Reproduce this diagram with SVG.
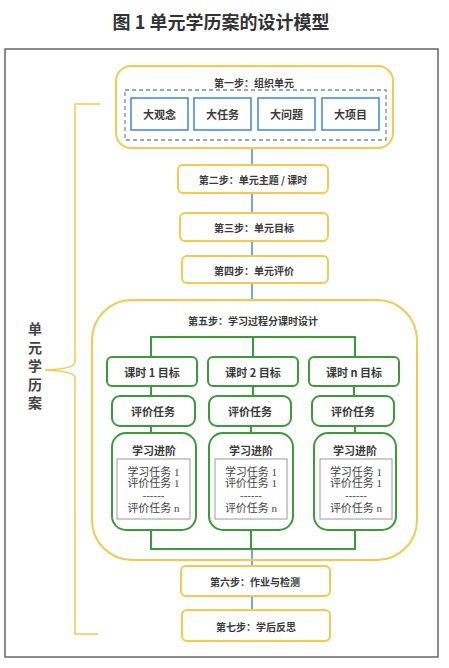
<svg xmlns="http://www.w3.org/2000/svg" width="449" height="668" viewBox="0 0 449 668">
<style>
.y{fill:#fff;stroke:#f3c94f;stroke-width:2}
.g{fill:#fff;stroke:#3c9a3c;stroke-width:2}
.b{fill:#fff;stroke:#4a8fc9;stroke-width:1.6}
.t{font-family:"Noto Sans CJK SC","Noto Sans",sans-serif;font-weight:bold;fill:#3a3a3a;text-anchor:middle;dominant-baseline:central}
.s{font-size:10px}
.m{font-size:11px}
.n{font-family:"Liberation Serif","Noto Sans CJK SC",serif;font-weight:normal;font-size:11px;fill:#444;text-anchor:middle;dominant-baseline:central}
.gl{fill:none;stroke:#3c9a3c;stroke-width:2}
.bl{fill:none;stroke:#4a8fc9;stroke-width:1.5}
</style>
<rect width="449" height="668" fill="#fff"/>
<text x="221" y="21" class="t" style="font-size:18px;fill:#333">图 1  单元学历案的设计模型</text>
<rect x="5" y="49" width="433" height="608" fill="none" stroke="#666" stroke-width="1.5"/>
<g id="connectors">
<path class="bl" d="M252 148V300M252 549V610"/>
<path class="gl" d="M151 357V337H355V357M253 337V357M151 386V396M253 386V396M354 386V396M151 426V433M251 426V433M355 426V433M151 530V549H355V530M251 530V549"/>
</g>
<g id="brace">
<path d="M100 104H75V362Q75 369 45 370Q75 371 75 378V634H98" fill="none" stroke="#f3c94f" stroke-width="1.5"/>
<text class="t" x="35" y="368" writing-mode="tb" style="font-size:14px;fill:#444;letter-spacing:4.5px;dominant-baseline:auto">单元学历案</text>
</g>
<g id="step1">
<rect class="y" x="116" y="66" width="277" height="82" rx="15"/>
<text class="t s" x="254" y="82">第一步：组织单元</text>
<rect x="125" y="90" width="261" height="50" fill="none" stroke="#7a8a9a" stroke-width="1.3" stroke-dasharray="4,3"/>
</g>
<g id="n1"><rect class="b" x="131" y="98" width="57" height="32"/><text class="t m" x="159.5" y="114">大观念</text></g>
<g id="n2"><rect class="b" x="194" y="98" width="57" height="32"/><text class="t m" x="222.5" y="114">大任务</text></g>
<g id="n3"><rect class="b" x="258" y="98" width="57" height="32"/><text class="t m" x="286.5" y="114">大问题</text></g>
<g id="n4"><rect class="b" x="322" y="98" width="57" height="32"/><text class="t m" x="350.5" y="114">大项目</text></g>
<g id="step2"><rect class="y" x="178" y="165" width="150" height="28" rx="5"/><text class="t s" x="253" y="179">第二步：单元主题 / 课时</text></g>
<g id="step3"><rect class="y" x="180" y="213" width="148" height="28" rx="5"/><text class="t s" x="254" y="227">第三步：单元目标</text></g>
<g id="step4"><rect class="y" x="182" y="256" width="146" height="27" rx="5"/><text class="t s" x="254" y="270">第四步：单元评价</text></g>
<g id="step5">
<rect class="y" x="92" y="300" width="325" height="260" rx="40" style="fill:none"/>
<text class="t s" x="253" y="320">第五步：学习过程分课时设计</text>
</g>
<g id="goal1"><rect class="g" x="107" y="357" width="90" height="29" rx="5"/><text class="t m" x="152" y="372">课时 1 目标</text></g>
<g id="goal2"><rect class="g" x="208" y="357" width="90" height="29" rx="5"/><text class="t m" x="253" y="372">课时 2 目标</text></g>
<g id="goal3"><rect class="g" x="309" y="357" width="90" height="29" rx="5"/><text class="t m" x="354" y="372">课时 n 目标</text></g>
<g id="eval1"><rect class="g" x="112" y="396" width="83" height="30" rx="8"/><text class="t m" x="153" y="411">评价任务</text></g>
<g id="eval2"><rect class="g" x="209" y="396" width="82" height="30" rx="8"/><text class="t m" x="250" y="411">评价任务</text></g>
<g id="eval3"><rect class="g" x="312" y="396" width="82" height="30" rx="8"/><text class="t m" x="353" y="411">评价任务</text></g>
<g id="prog1">
<rect class="g" x="112" y="433" width="84" height="97" rx="14"/>
<text class="t m" x="154" y="450">学习进阶</text>
<rect x="117" y="459" width="73" height="60" fill="#fff" stroke="#999" stroke-width="1"/>
<text class="n" x="153.5" y="472">学习任务 1</text><text class="n" x="153.5" y="483">评价任务 1</text><text class="n" x="153.5" y="495">------</text><text class="n" x="153.5" y="508">评价任务 n</text>
</g>
<g id="prog2">
<rect class="g" x="209" y="433" width="84" height="97" rx="14"/>
<text class="t m" x="251" y="450">学习进阶</text>
<rect x="215" y="459" width="72" height="60" fill="#fff" stroke="#999" stroke-width="1"/>
<text class="n" x="251" y="472">学习任务 1</text><text class="n" x="251" y="483">评价任务 1</text><text class="n" x="251" y="495">------</text><text class="n" x="251" y="508">评价任务 n</text>
</g>
<g id="prog3">
<rect class="g" x="314" y="433" width="82" height="97" rx="14"/>
<text class="t m" x="355" y="450">学习进阶</text>
<rect x="320" y="459" width="72" height="60" fill="#fff" stroke="#999" stroke-width="1"/>
<text class="n" x="356" y="472">学习任务 1</text><text class="n" x="356" y="483">评价任务 1</text><text class="n" x="356" y="495">------</text><text class="n" x="356" y="508">评价任务 n</text>
</g>
<g id="step6"><rect class="y" x="181" y="566" width="149" height="30" rx="5"/><text class="t s" x="255" y="581">第六步：作业与检测</text></g>
<g id="step7"><rect class="y" x="182" y="610" width="148" height="31" rx="5"/><text class="t s" x="256" y="626">第七步：学后反思</text></g>
</svg>
